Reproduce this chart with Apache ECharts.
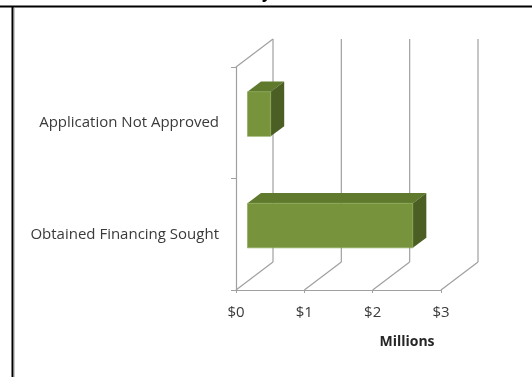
<!DOCTYPE html>
<html>
<head>
<meta charset="utf-8">
<script src="https://cdn.jsdelivr.net/npm/echarts@6/dist/echarts.min.js"></script>
<style>
  html, body { margin: 0; padding: 0; background: #fff; }
  #chart { width: 532px; height: 377px; }
</style>
</head>
<body>
<div id="chart"></div>
<script>
// Funding outcome by category (values in millions of dollars)
const categories = ['Obtained Financing Sought', 'Application Not Approved'];
const amounts = [2.42, 0.34];
const xTicks = [0, 1, 2, 3];
const xTickLabels = ['$0', '$1', '$2', '$3'];
const unitLabel = 'Millions';

// Oblique depth of the 3-D box (pixels)
const DX = 37, DY = -28;
// Bars sit between these fractions of the depth
const D0 = 0.31, D1 = 0.675;

const GRID = '#a0a0a0';
const FRONT = '#77933c';
const TOP = '#5f7a2c';
const SIDE = '#4b5f24';
const FONT = 'Open Sans';

const chart = echarts.init(document.getElementById('chart'), null, { renderer: 'canvas' });

function wallItem(params, api) {
  const v = api.value(0);
  const cs = params.coordSys;
  const x = api.coord([v, 0])[0];
  const top = cs.y, bottom = cs.y + cs.height;
  const style = { stroke: GRID, lineWidth: 1.2, fill: null };
  const children = [
    { type: 'line', shape: { x1: x, y1: bottom, x2: x + DX, y2: bottom + DY }, style },
    { type: 'line', shape: { x1: x + DX, y1: bottom + DY, x2: x + DX, y2: top + DY }, style }
  ];
  if (params.dataIndex === 0) {
    children.push({ type: 'line', shape: { x1: x, y1: top, x2: x + DX, y2: top + DY }, style });
  }
  return { type: 'group', children };
}

function barItem(params, api) {
  const idx = api.value(0);
  const val = api.value(1);
  const start = api.coord([0, idx]);
  const end = api.coord([val, idx]);
  const band = api.size([0, 1])[1];
  const h = band * 0.4;
  const yc = start[1];
  const fx = D0 * DX, fy = D0 * DY;
  const bx = D1 * DX, by = D1 * DY;
  const xl = start[0], xr = end[0];
  const yt = yc - h / 2, yb = yc + h / 2;
  return {
    type: 'group',
    children: [
      { type: 'polygon', shape: { points: [
          [xl + fx, yt + fy], [xr + fx, yt + fy], [xr + bx, yt + by], [xl + bx, yt + by]
        ] }, style: { fill: TOP } },
      { type: 'polygon', shape: { points: [
          [xr + fx, yt + fy], [xr + bx, yt + by], [xr + bx, yb + by], [xr + fx, yb + fy]
        ] }, style: { fill: SIDE } },
      { type: 'rect', shape: { x: xl + fx, y: yt + fy, width: xr - xl, height: h },
        style: { fill: FRONT, stroke: '#8aa652', lineWidth: 0.6 } }
    ]
  };
}

chart.setOption({
  animation: false,
  backgroundColor: '#ffffff',
  grid: { left: 236, right: 91, top: 67, bottom: 87, containLabel: false, outerBoundsMode: 'none' },
  xAxis: {
    type: 'value', min: 0, max: 3, interval: 1,
    axisLine: { show: true, lineStyle: { color: GRID, width: 1.2 } },
    axisTick: { show: true, length: 3, lineStyle: { color: GRID } },
    axisLabel: { fontFamily: FONT, fontSize: 15, color: '#3a3a3a', margin: 15,
      formatter: v => xTickLabels[xTicks.indexOf(v)] },
    splitLine: { show: false }
  },
  yAxis: {
    type: 'category', data: categories,
    axisLine: { show: true, lineStyle: { color: GRID, width: 1.2 } },
    axisTick: { show: true, length: 5, lineStyle: { color: GRID } },
    axisLabel: { fontFamily: FONT, fontSize: 15, color: '#3a3a3a', margin: 17 }
  },
  graphic: [
    { type: 'line', shape: { x1: 0, y1: 6.5, x2: 532, y2: 6.5 }, style: { stroke: '#000', lineWidth: 2 } },
    { type: 'line', shape: { x1: 12.5, y1: 6, x2: 12.5, y2: 377 }, style: { stroke: '#000', lineWidth: 2 } },
    { type: 'line', shape: { x1: 14.5, y1: 8, x2: 14.5, y2: 377 }, style: { stroke: '#c8c8c8', lineWidth: 1 } },
    { type: 'text', left: 262, top: -15, style: { text: 'y', font: 'bold 16px "Open Sans"', fill: '#000' } },
    { type: 'text', x: 407, y: 342, style: { text: unitLabel, font: 'bold 14px "Open Sans"', fill: '#262626',
      textAlign: 'center', textVerticalAlign: 'middle' } }
  ],
  series: [
    {
      type: 'custom', renderItem: wallItem, z: 1, silent: true,
      data: xTicks.map(v => [v])
    },
    {
      type: 'custom', renderItem: barItem, z: 3,
      encode: { x: 1, y: 0 },
      data: categories.map((c, i) => [i, amounts[i]])
    }
  ]
});
</script>
</body>
</html>
